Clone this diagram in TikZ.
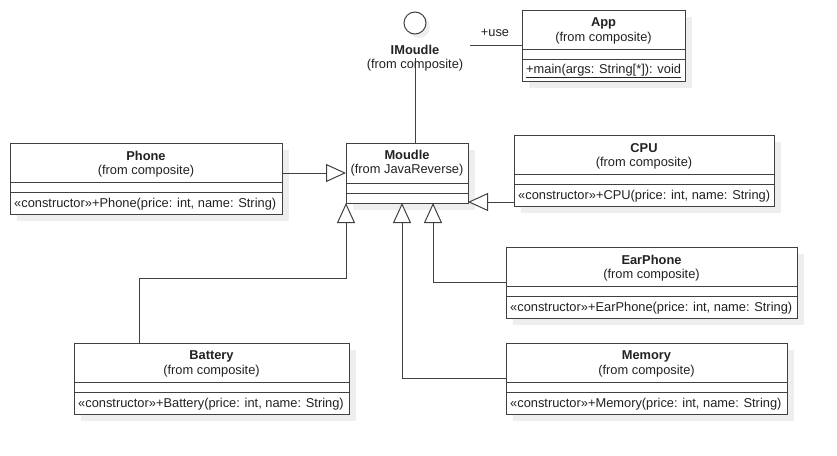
\documentclass[tikz,border=0pt]{standalone}
\usepackage{fontspec}
\setmainfont{Liberation Sans}
\usetikzlibrary{arrows.meta}
\definecolor{linec}{HTML}{404040}
\definecolor{shadowc}{HTML}{EEEEEE}
\definecolor{textc}{HTML}{222222}
\tikzset{
 classbox/.style={draw=linec, line width=1pt, fill=white, inner sep=0pt, outer sep=0pt, anchor=north west},
 sepline/.style={draw=linec, line width=1pt},
 gen/.style={draw=linec, line width=1pt, -{Triangle[open, fill=white, length=20pt, width=18pt]}},
 conn/.style={draw=linec, line width=1pt},
 txt/.style={font=\fontsize{12.85}{15}\selectfont, text=textc, inner sep=0pt},
 ttl/.style={txt, font=\fontsize{12.85}{15}\selectfont\bfseries},
}
\newcommand{\umlclass}[6]{%
 \fill[shadowc] (#2+7,#4+7) rectangle (#3+7,#4+78);
 \node[classbox, minimum width={(#3-#2)*1pt}, minimum height=71pt] (#1) at (#2,#4) {};
 \draw[sepline] (#2,#4+39) -- (#3,#4+39);
 \draw[sepline] (#2,#4+49) -- (#3,#4+49);
 \node[ttl] (#1-t) at ({(#2+#3)/2},#4+13) {#5};
 \node[txt] (#1-s) at ({(#2+#3)/2},#4+28) {(from composite)};
 \node[txt, anchor=west] (#1-m) at (#2+4,#4+61) {#6};
}
\begin{document}
\begin{tikzpicture}[x=1pt,y=-1pt]
\useasboundingbox (0,0) rectangle (837,455);
% Moudle
\fill[shadowc] (353,150) rectangle (475,210);
\node[classbox, minimum width=122pt, minimum height=60pt] (Moudle) at (346,143) {};
\draw[sepline] (346,183) -- (468,183);
\draw[sepline] (346,193) -- (468,193);
\node[ttl] (Moudle-t) at (407,155) {Moudle};
\node[txt] (Moudle-s) at (407,170) {(from JavaReverse)};
% classes
\umlclass{App}{522}{685}{10}{App}{\underline{+main(args: String[*]): void}}
\umlclass{Phone}{10}{282}{143}{Phone}{«constructor»+Phone(price: int, name: String)}
\umlclass{CPU}{514}{774}{135}{CPU}{«constructor»+CPU(price: int, name: String)}
\umlclass{EarPhone}{506}{797}{247}{EarPhone}{«constructor»+EarPhone(price: int, name: String)}
\umlclass{Memory}{506}{787}{343}{Memory}{«constructor»+Memory(price: int, name: String)}
\umlclass{Battery}{74}{349}{343}{Battery}{«constructor»+Battery(price: int, name: String)}
% interface
\fill[shadowc] (419,27) circle (11);
\node[circle, draw=linec, line width=1pt, fill=white, minimum size=22pt, inner sep=0pt] (IM) at (415,23) {};
\coordinate (imfoot) at (415,58);
\draw[conn] (imfoot) -- ([xshift=8pt]Moudle.north);
\node[ttl] (IM-t) at (415,50) {IMoudle};
\node[txt] (IM-s) at (415,65) {(from composite)};
% association
\coordinate (usefoot) at (470,45);
\draw[conn] (usefoot) -- (App.west |- usefoot);
\node[txt] (uselbl) at (495,33) {+use};
% generalizations
\draw[gen] (Phone.east |- Moudle.west) -- (Moudle.west);
\draw[gen] ([yshift=4pt]CPU.south west) -- ([yshift=4pt]CPU.south west -| Moudle.east);
\draw[gen] ([xshift=65pt]Battery.north west) -- ++(0,-65) -| (Moudle.south west);
\draw[gen] (Memory.west) -| ([xshift=-5pt]Moudle.south);
\draw[gen] (EarPhone.west) -| ([xshift=26pt]Moudle.south);
\end{tikzpicture}
\end{document}
